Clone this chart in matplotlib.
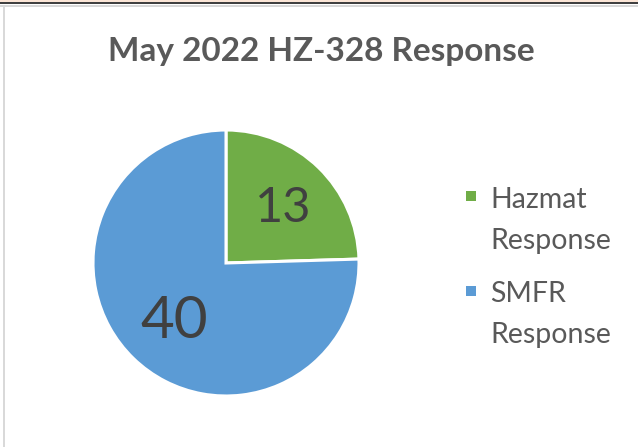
import matplotlib
matplotlib.use("Agg")
import matplotlib.pyplot as plt
import numpy as np
from matplotlib.patches import Rectangle

categories = ["Hazmat Response", "SMFR Response"]
values = [13, 40]
colors = ["#70AD47", "#5B9BD5"]
title = "May 2022 HZ-328 Response"

plt.rcParams['font.family'] = ['Lato', 'DejaVu Sans']

W, H = 638, 447
fig = plt.figure(figsize=(W/100, H/100), dpi=100)
fig.patch.set_facecolor("white")

# frame decorations
fig.add_artist(Rectangle((0, 1-2/H), 1, 2/H, transform=fig.transFigure, color="#FBE5D6", lw=0))
fig.add_artist(Rectangle((0, 1-4/H), 1, 2/H, transform=fig.transFigure, color="#404040", lw=0))
fig.add_artist(Rectangle((0, 1-7/H), 1, 2/H, transform=fig.transFigure, color="#D9D9D9", lw=0))
fig.add_artist(Rectangle((3/W, 0), 2/W, 1-5/H, transform=fig.transFigure, color="#D9D9D9", lw=0))

cx, cy, r = 226, 263, 133
ax = fig.add_axes([(cx-r)/W, (H-cy-r)/H, 2*r/W, 2*r/H])
wedges, _ = ax.pie(values, colors=colors, startangle=90, counterclock=False, radius=1,
                   wedgeprops=dict(edgecolor="white", linewidth=2.2))
for w in wedges:
    w.set_clip_on(False)
ax.set_xlim(-1.0, 1.0)
ax.set_ylim(-1.0, 1.0)
ax.set_aspect("equal")
ax.axis("off")

dists = [0.62, 0.56]
sizes = [35, 42]
for w, v, d, s in zip(wedges, values, dists, sizes):
    ang = np.deg2rad((w.theta1 + w.theta2) / 2)
    ax.text(d*np.cos(ang), d*np.sin(ang), str(v), ha="center", va="center_baseline",
            fontsize=s, color="#404040")

fig.text(321/W, 1-61/H, title, ha="center", va="baseline", fontsize=24,
         fontweight="bold", color="#595959")

# legend (entries built from categories / colors)
for i, (lab, col) in enumerate(zip(categories, colors)):
    ytop = 197 + i*95
    fig.add_artist(Rectangle((466/W, 1-(ytop+4)/H), 10/W, 10/H,
                             transform=fig.transFigure, color=col, lw=0))
    for k, word in enumerate(lab.split(" ")):
        fig.text(490/W, 1-(ytop + k*41)/H, word, ha="left", va="center_baseline",
                 fontsize=20.5, color="#595959")

fig.savefig("out.png", dpi=100)
